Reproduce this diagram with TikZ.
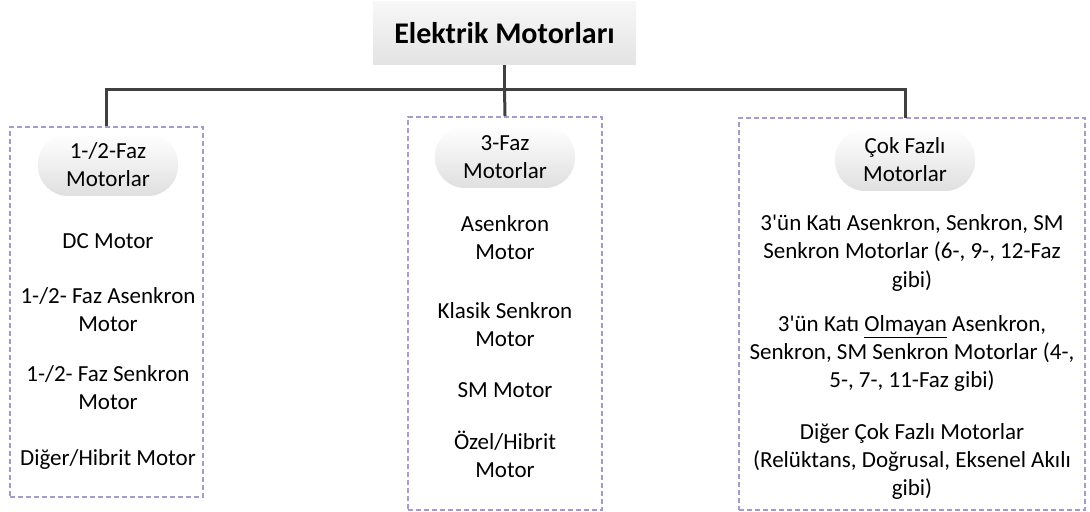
\documentclass[tikz,border=0pt]{standalone}
\usepackage{fontspec}
\setmainfont{Carlito}[Ligatures=TeXOff]
\usetikzlibrary{positioning}
\definecolor{grpline}{RGB}{165,155,205}
\definecolor{busline}{RGB}{64,64,64}

\begin{document}
\begin{tikzpicture}[x=0.5pt, y=0.5pt,
	topbox/.style={rectangle, top color=gray!6, bottom color=gray!22,
		minimum width=131.5pt, minimum height=31.5pt,
		font=\fontsize{15}{18}\selectfont\bfseries},
	phase/.style={rectangle, rounded corners=15pt, top color=white,
		bottom color=gray!25, minimum width=70pt, minimum height=31pt,
		align=center, inner sep=1pt, font=\fontsize{11.5}{14}\selectfont},
	grp/.style={rectangle, draw=grpline, dash pattern=on 2.5pt off 1.5pt,
		line width=1pt},
	motor/.style={align=center, inner sep=0pt, on grid,
		font=\fontsize{11.5}{14}\selectfont},
	conn/.style={draw=busline, line width=1.5pt},
	]
	\useasboundingbox (0,0) rectangle (1090,512);
	
	% Groups
	\node[grp, minimum width=96.5pt, minimum height=185pt] (gl) at (106.5,200) {};
	\node[grp, minimum width=97pt, minimum height=196.5pt] (gm) at (505,198.5) {};
	\node[grp, minimum width=173pt, minimum height=196pt] (gr) at (912,198) {};
	
	% Root
	\node[topbox] (root) at (504.5,478.5) {Elektrik Motorları};
	\coordinate (bus) at (504.5,422);
	
	% Connectors
	\draw[conn] (root.south) -- (bus);
	\draw[conn] (gl.north) |- (bus) -| (905,394);
	\draw[conn] (bus) -- (gm.north);
	
	% Phase heads
	\node[phase] (hl) at (108,347) {1-/2-Faz\\Motorlar};
	\node[phase] (hm) at (505,355) {3-Faz\\Motorlar};
	\node[phase] (hr) at (905,352) {Çok Fazlı\\Motorlar};
	
	% 1-/2-Faz
	\node[motor, below=76 of hl] (l1) {DC Motor};
	\node[motor, below=69 of l1] (l2) {1-/2- Faz Asenkron\\Motor};
	\node[motor, below=78 of l2] (l3) {1-/2- Faz Senkron\\Motor};
	\node[motor, below=71 of l3] (l4) {Diğer/Hibrit Motor};
	
	% 3-Faz
	\node[motor, below=81 of hm] (m1) {Asenkron\\Motor};
	\node[motor, below=87 of m1] (m2) {Klasik Senkron\\Motor};
	\node[motor, below=65 of m2] (m3) {SM Motor};
	\node[motor, below=64.5 of m3] (m4) {Özel/Hibrit\\Motor};
	
	% Cok fazli
	\node[motor, below=93 of hr, xshift=3.5pt] (r1)
	{3'ün Katı Asenkron, Senkron, SM\\Senkron Motorlar (6-, 9-, 12-Faz\\gibi)};
	\node[motor, below=100 of r1] (r2)
	{3'ün Katı \underline{Olmayan} Asenkron,\\Senkron, SM Senkron Motorlar (4-,\\5-, 7-, 11-Faz gibi)};
	\node[motor, below=108 of r2] (r3)
	{Diğer Çok Fazlı Motorlar\\(Relüktans, Doğrusal, Eksenel Akılı\\gibi)};
\end{tikzpicture}
\end{document}
